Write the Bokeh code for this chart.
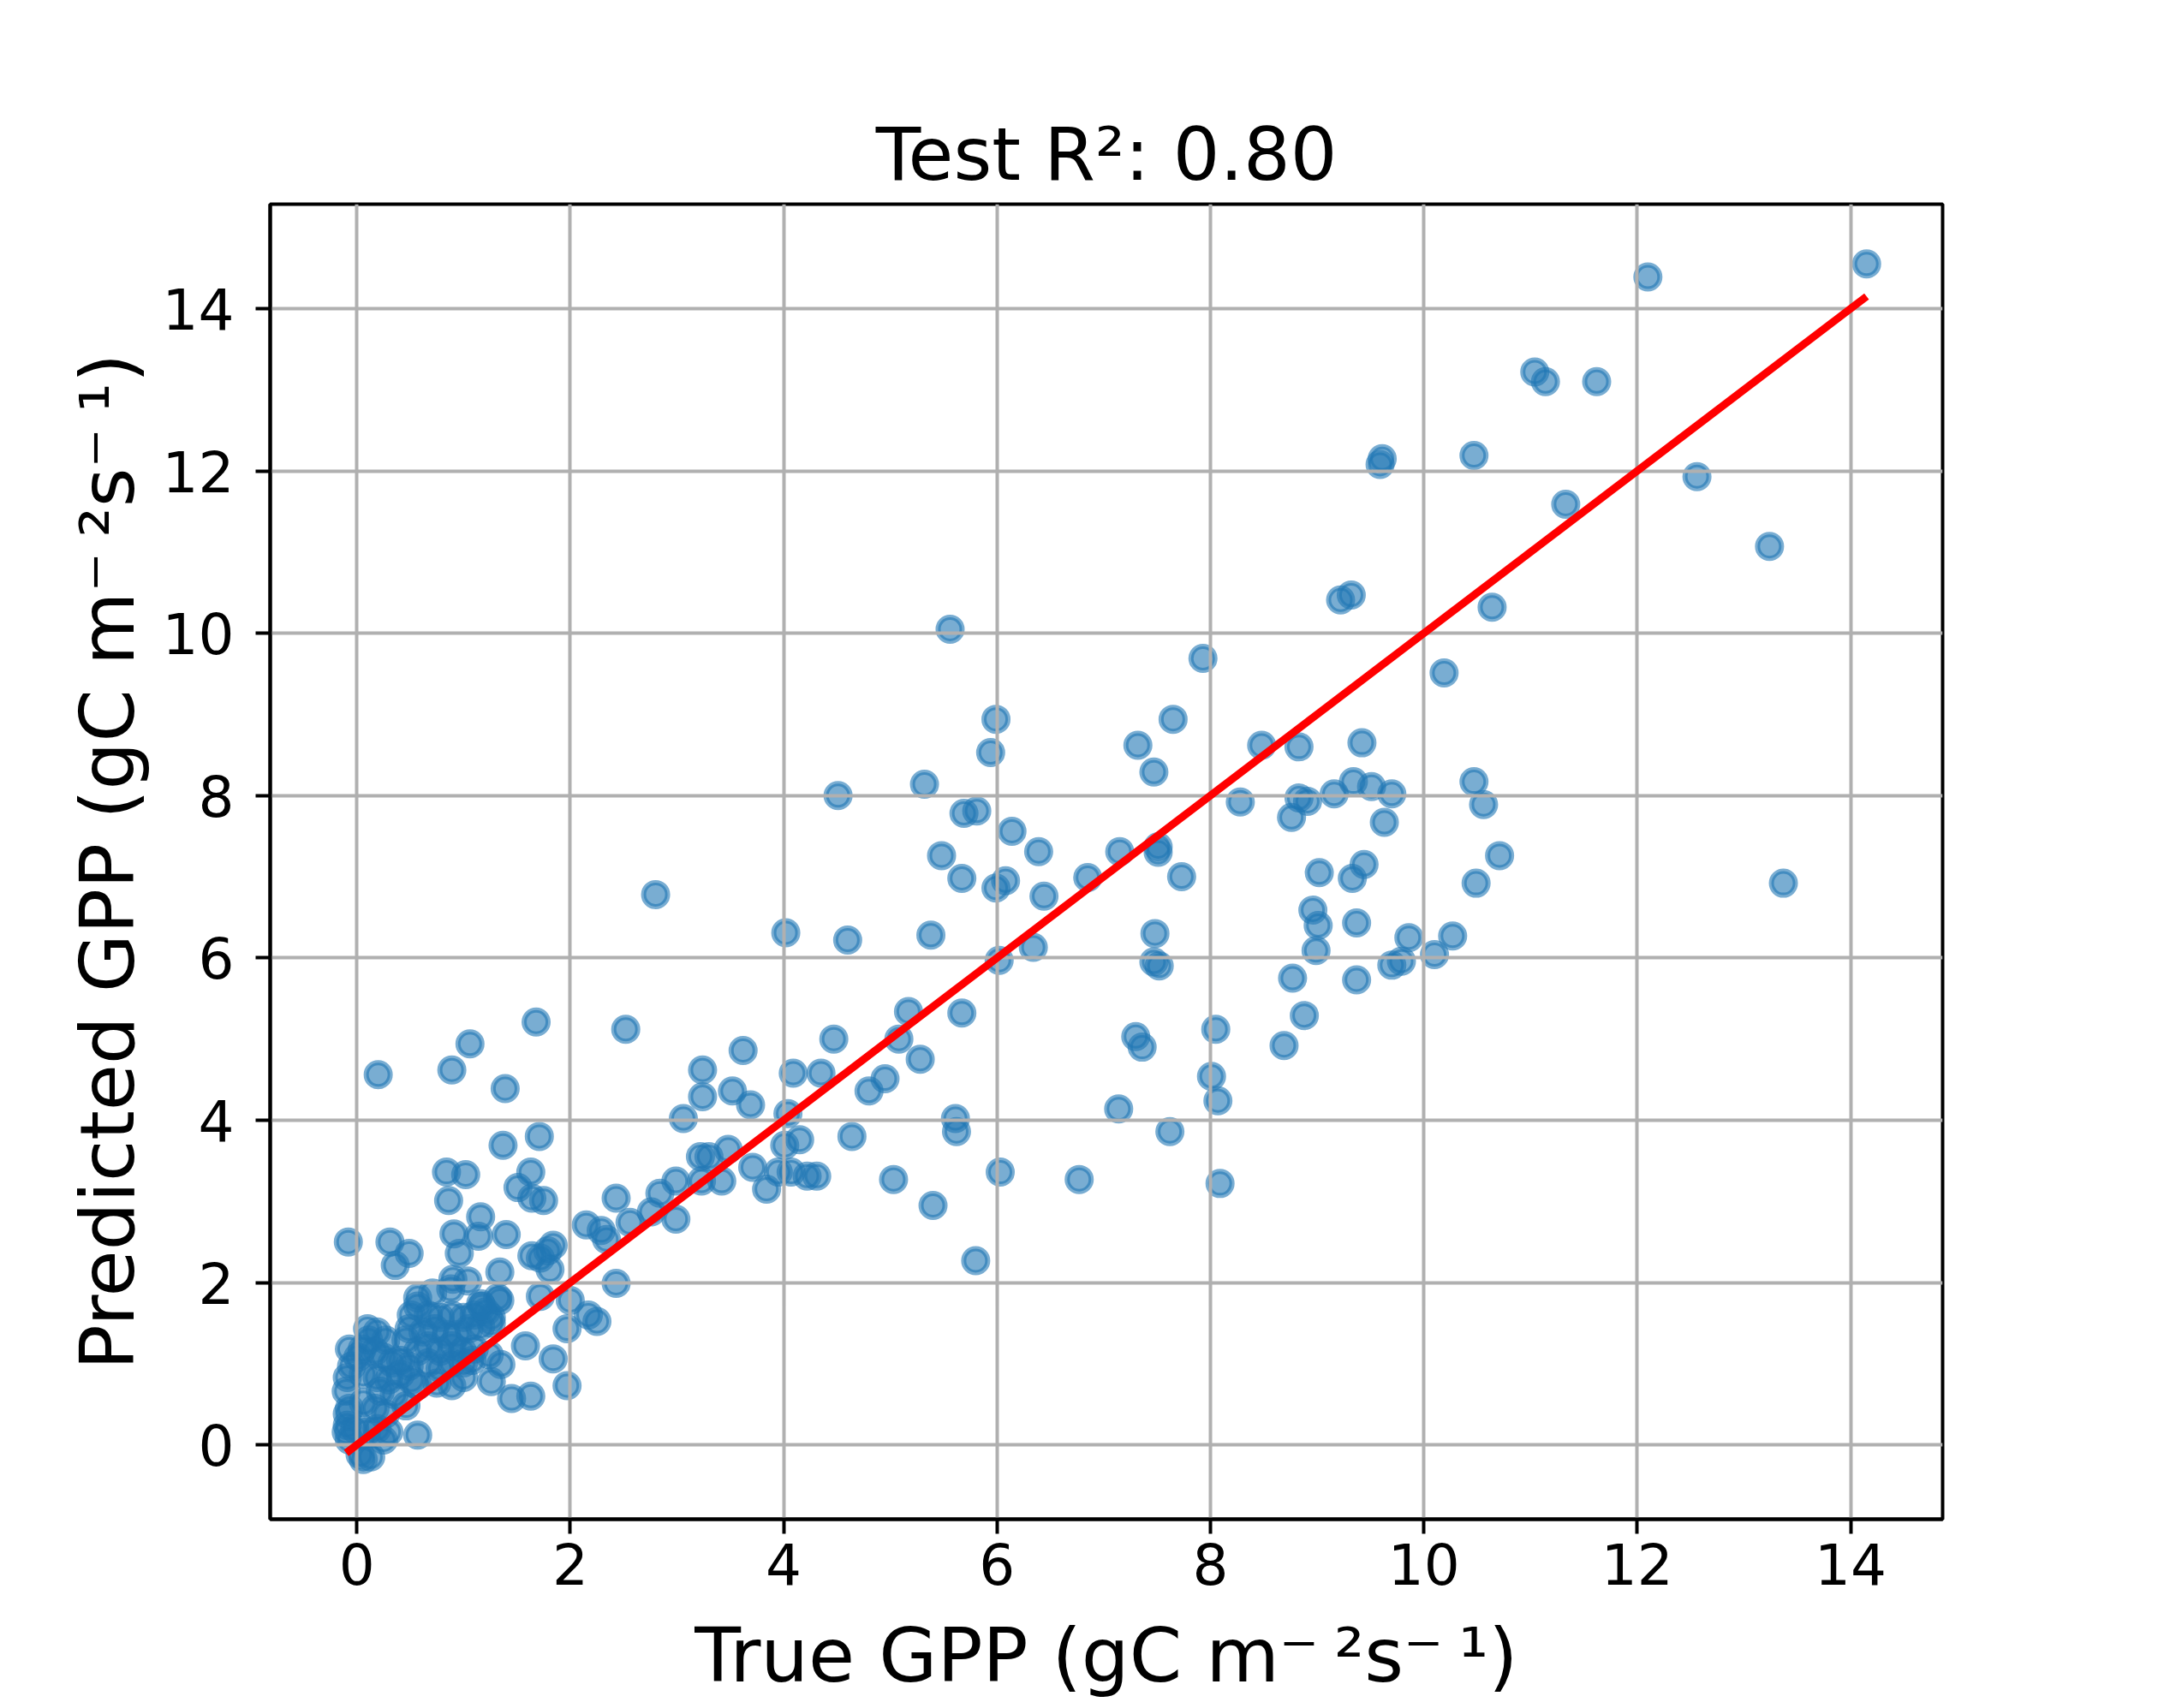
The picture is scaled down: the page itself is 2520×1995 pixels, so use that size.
from bokeh.plotting import figure
from bokeh.models import Range1d, SingleIntervalTicker
from bokeh.embed import file_html
from bokeh.resources import INLINE

# True GPP values (x) and predicted GPP values (y)
true_gpp = [
    # dense cluster near 1
    0.51, 0.57, 0.67, 0.78, 0.89, 1.00, 1.10, 0.49, 0.62, 0.73, 0.84, 0.94, 1.05, 1.16, 1.26,
    0.67, 0.78, 0.89, 0.99, 1.10, 0.67, 0.78, 0.89, 1.00, 0.75, 0.89, 1.00, 1.16, 1.21, 1.26,
    1.08, 0.57, 0.46,
    # dense cluster near origin
    0.10, 0.19, 0.27, 0.05, 0.17, 0.25, -0.07, -0.09, -0.05, 0.06, 0.19, 0.30, 0.41, 0.22, 0.35,
    0.46, -0.07, 0.06, 0.17, 0.27, -0.09, -0.10, -0.02, 0.09, 0.19, 0.30, 0.25, -0.07, 0.06, 0.13,
    0.03, 0.33, 0.41, 0.49, 0.51, 0.57, 0.11, 0.01, -0.10, -0.09,
    # low values
    0.90, 1.04, 0.57, 0.71, 0.88, 1.32, 1.34, 1.17, 1.72, 1.26, 1.35, 1.24, 0.57, 1.97, 2.00,
    1.58, 1.84, 1.97, 1.45, 1.63, 2.17, 2.25, 2.43,
    # upper left
    -0.08, 0.31, 0.49, 0.36, 0.86, 1.16, 0.91, 1.14, 1.40, 0.96, 1.34, 1.64, 1.72, 1.81, 1.84,
    1.79, 1.51, 1.63, 1.64, 1.75, 0.84, 1.02, 1.37, 1.71, 0.20, 0.89, 1.06, 1.39, 1.68, 2.52,
    3.24, 3.24, 3.06, 2.43, 2.15, 2.29, 2.34, 2.56, 2.76, 2.84, 2.99, 2.99, 3.23, 3.22,
    # middle
    2.80, 3.30, 3.48, 3.42, 3.52, 3.69, 3.62, 3.71, 3.84, 3.95, 4.02, 4.04, 4.01, 4.09, 4.15,
    4.07, 4.22, 4.31, 4.35, 4.47, 4.51, 4.60, 4.64, 4.80, 4.95, 5.03, 5.08, 5.17, 5.28, 5.32,
    5.38, 5.40, 5.48, 5.56, 5.61, 5.62, 5.67, 5.67, 5.69, 5.81, 5.80, 5.94, 5.99, 5.99, 6.02,
    6.03, 6.08, 6.14, 6.34, 6.39, 6.44, 6.77, 6.85, 7.14, 7.15, 7.30, 7.32, 7.36, 7.47, 7.48,
    7.47, 7.52, 7.51, 7.51, 7.62, 7.65, 7.73, 7.93, 8.01, 8.05, 8.07, 8.09, 8.28,
    # upper right
    8.48, 8.69, 8.77, 8.76, 8.83, 8.83, 8.88, 8.91, 8.96, 9.01, 8.99, 9.02, 9.16, 9.22, 9.32,
    9.33, 9.34, 9.37, 9.37, 9.42, 9.44, 9.51, 9.59, 9.61, 9.63, 9.70, 9.70, 9.79, 9.86, 10.10,
    10.19, 10.27, 10.47, 10.47, 10.49, 10.56, 10.64, 10.71, 11.04, 11.14, 11.33, 11.62, 12.10,
    12.56, 13.24, 13.37, 14.15,
]
pred_gpp = [
    # dense cluster near 1
    1.60, 1.71, 1.60, 1.57, 1.60, 1.57, 1.60, 1.43, 1.39, 1.43, 1.36, 1.36, 1.43, 1.46, 1.50,
    1.22, 1.15, 1.22, 1.15, 1.18, 1.01, 0.94, 1.01, 1.01, 0.76, 0.73, 0.83, 1.74, 1.64, 1.57,
    1.04, 1.15, 1.29,
    # dense cluster near origin
    1.43, 1.39, 1.29, 1.18, 1.15, 1.08, 1.18, 0.83, 0.97, 0.87, 0.83, 0.80, 0.87, 0.66, 0.62,
    0.48, 0.45, 0.52, 0.45, 0.38, 0.24, 0.16, 0.20, 0.16, 0.20, 0.16, 0.06, 0.06, -0.18, -0.15,
    -0.12, 1.01, 1.04, 0.97, 0.80, 0.73, 1.29, 1.08, 0.66, 0.38,
    # low values
    2.04, 2.02, 1.81, 1.87, 1.92, 1.81, 1.78, 1.71, 1.83, 0.78, 0.99, 1.11, 0.12, 1.43, 1.78,
    1.22, 1.06, 0.73, 0.57, 0.60, 1.60, 1.52, 1.99,
    # upper left
    2.50, 2.50, 2.36, 2.21, 3.01, 2.81, 2.60, 2.57, 2.59, 2.36, 2.13, 2.33, 2.30, 2.16, 2.46,
    2.39, 3.17, 3.36, 3.04, 3.01, 3.36, 3.33, 3.69, 3.80, 4.56, 4.62, 4.94, 4.39, 5.21, 5.12,
    4.62, 4.29, 4.02, 3.04, 2.71, 2.64, 2.53, 2.74, 2.87, 3.10, 3.25, 2.78, 3.25, 3.55,
    # middle
    6.78, 3.55, 3.64, 3.25, 4.36, 4.19, 4.86, 3.42, 3.15, 3.36, 6.31, 4.08, 3.69, 4.58, 3.76,
    3.36, 3.31, 3.31, 4.58, 5.00, 8.00, 6.22, 3.80, 4.36, 4.51, 3.27, 5.00, 5.34, 4.75, 8.14,
    6.28, 2.95, 7.26, 10.05, 4.02, 3.86, 5.32, 6.98, 7.78, 7.81, 2.27, 8.53, 8.94, 6.86, 5.97,
    3.36, 6.95, 7.56, 6.13, 7.31, 6.76, 3.27, 6.99, 4.14, 7.31, 5.03, 8.62, 4.90, 8.29, 6.30,
    5.95, 5.90, 7.37, 7.30, 3.86, 8.94, 7.00, 9.69, 4.54, 5.12, 4.24, 3.22, 7.92,
    # upper right
    8.62, 4.92, 5.75, 7.73, 8.60, 7.97, 5.29, 7.93, 6.59, 6.40, 6.09, 7.05, 8.02, 10.41, 10.47,
    6.98, 8.17, 6.43, 5.73, 8.65, 7.15, 8.11, 12.08, 12.15, 7.67, 8.02, 5.91, 5.96, 6.25, 6.04,
    9.51, 6.27, 12.19, 8.17, 6.92, 7.89, 10.32, 7.26, 13.22, 13.10, 11.59, 13.10, 14.39,
    11.93, 11.07, 6.92, 14.55,
]

title_text = "Test R\u00b2: 0.80"
x_label = "True GPP (gC m\u207b\u2009\u00b2s\u207b\u2009\u00b9)"
y_label = "Predicted GPP (gC m\u207b\u2009\u00b2s\u207b\u2009\u00b9)"

FONT = "DejaVu Sans"

x_lo, x_hi = min(true_gpp), max(true_gpp)
y_lo, y_hi = min(pred_gpp), max(pred_gpp)
xm = 0.05 * (x_hi - x_lo)
ym = 0.05 * (y_hi - y_lo)

p = figure(
    width=2500, height=1987,
    x_range=Range1d(x_lo - xm, x_hi + xm),
    y_range=Range1d(y_lo - ym, y_hi + ym),
    output_backend="svg", toolbar_location=None,
    min_border_left=315, min_border_right=232,
    min_border_top=238, min_border_bottom=200,
    title=title_text,
)
p.background_fill_color = "white"
p.border_fill_color = "white"
p.outline_line_color = "black"
p.outline_line_width = 4

p.title.align = "center"
p.title.text_font = FONT
p.title.text_font_size = "86px"
p.title.text_font_style = "normal"
p.title.text_color = "black"
p.title.standoff = 18

for ax in (p.xaxis[0], p.yaxis[0]):
    ax.ticker = SingleIntervalTicker(interval=2)
    ax.minor_tick_line_color = None
    ax.major_tick_in = 0
    ax.major_tick_out = 17
    ax.major_tick_line_width = 4
    ax.major_tick_line_color = "black"
    ax.axis_line_width = 4
    ax.axis_line_color = "black"
    ax.major_label_text_font = FONT
    ax.major_label_text_font_size = "66px"
    ax.major_label_text_color = "black"
    ax.axis_label_text_font = FONT
    ax.axis_label_text_font_size = "88px"
    ax.axis_label_text_font_style = "normal"
    ax.axis_label_text_color = "black"

p.xaxis[0].axis_label = x_label
p.yaxis[0].axis_label = y_label
p.xaxis[0].major_label_standoff = 10
p.yaxis[0].major_label_standoff = 25
p.xaxis[0].axis_label_standoff = 28
p.yaxis[0].axis_label_standoff = 10

for g in (p.xgrid[0], p.ygrid[0]):
    g.ticker = SingleIntervalTicker(interval=2)
    g.grid_line_color = "#b0b0b0"
    g.grid_line_width = 4

pts = p.scatter(true_gpp, pred_gpp, size=28, marker="circle",
                fill_color="#1f77b4", fill_alpha=0.6,
                line_color="#1f77b4", line_alpha=0.6, line_width=6)
pts.level = "image"

p.line([x_lo, x_hi], [x_lo, x_hi], line_color="red", line_width=9)

open("out.html", "w").write(file_html(p, INLINE))
